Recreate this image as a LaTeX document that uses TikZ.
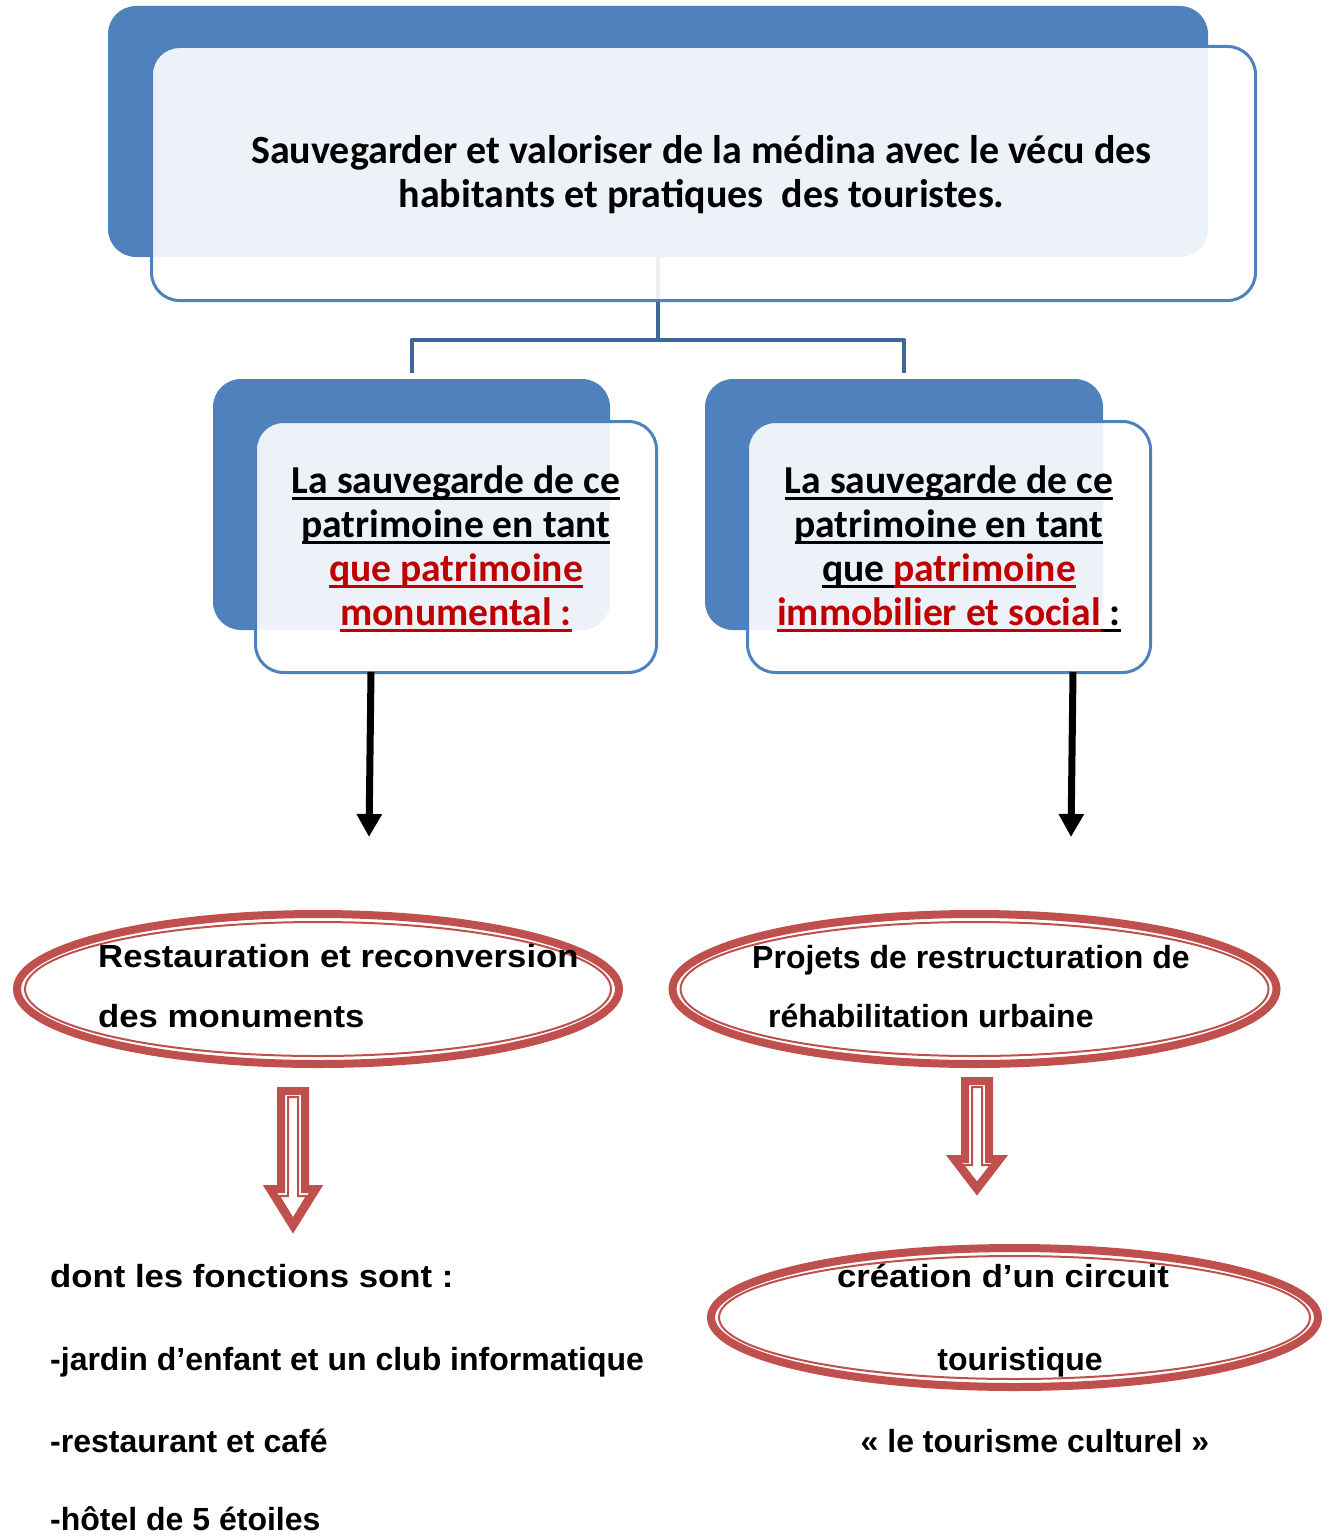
\documentclass[tikz,border=0pt]{standalone}
\usepackage{fontspec}
\setmainfont{Carlito}
\newfontfamily\arialf{Liberation Sans}
\usetikzlibrary{shapes.geometric,arrows.meta}
\definecolor{bback}{HTML}{4F81BD}
\definecolor{bconn}{HTML}{3F6797}
\definecolor{ringred}{HTML}{C0504D}
\definecolor{tred}{HTML}{C00000}
\newcommand{\myul}[1]{\setbox0\hbox{#1}\rlap{\rule[-6pt]{\wd0}{2.8pt}}\box0}
\newcommand{\wider}[1]{\scalebox{1.085}[1]{#1}}
\begin{document}
\begin{tikzpicture}[x=1pt,y=-1pt,
  back/.style={fill=bback, rounded corners=28pt, inner sep=0pt},
  front/.style={draw=bback, line width=3pt, fill=white, fill opacity=0.9, rounded corners=28pt, inner sep=0pt},
  conn/.style={draw=bconn, line width=4pt},
  blk/.style={draw=black, line width=7pt, -{Triangle[width=24pt,length=23pt]}},
  ring/.style={ellipse, draw=ringred, line width=8pt, inner sep=0pt},
  ringin/.style={ellipse, draw=ringred, line width=2pt, inner sep=0pt},
  hol/.style={draw=ringred, line join=miter},
  toptx/.style={align=center, inner sep=0pt, font=\bfseries\fontsize{40}{44}\selectfont},
  bt/.style={align=center, inner sep=0pt, font=\bfseries\fontsize{39.6}{44}\selectfont},
  ab/.style={inner sep=0pt, font=\arialf\bfseries\fontsize{32}{38}\selectfont}]
\useasboundingbox (0,0) rectangle (1333,1536);
% back boxes
\node[back, minimum width=1100pt, minimum height=251pt] (topback) at (658,131.5) {};
\node[back, minimum width=397pt, minimum height=251pt] (mlback) at (411.5,504.5) {};
\node[back, minimum width=398pt, minimum height=251pt] (mrback) at (904,504.5) {};
% connector
\coordinate (split) at (658,340);
\draw[conn] (topback.south) -- (split);
\draw[conn, shorten <=6pt, shorten >=6pt, line join=round] (mlback.north) |- (split) -| (mrback.north);
% front boxes
\node[front, minimum width=1104pt, minimum height=254pt] (top) at (703.5,173.5) {};
\node[front, minimum width=401pt, minimum height=251pt] (ml) at (456,547) {};
\node[front, minimum width=403pt, minimum height=251pt] (mr) at (949,547) {};
% texts in boxes
\node[toptx] (toptext) at (701.5,175) {Sauvegarder et valoriser de la médina avec le vécu des\\habitants et pratiques\ \ des touristes.};
\node[bt] (mltext) at (456,549) {\myul{La sauvegarde de ce}\\\myul{patrimoine en tant}\\{\color{tred}\myul{que patrimoine}}\\{\color{tred}\myul{monumental :}}};
\node[bt] (mrtext) at (949,549) {\myul{La sauvegarde de ce}\\\myul{patrimoine en tant}\\\myul{que\ }{\color{tred}\myul{patrimoine}}\\{\color{tred}\myul{immobilier et social}}\myul{\ :}};
% black arrows
\coordinate (a1) at (369,837);
\coordinate (a2) at (1071,837);
\draw[blk] ([xshift=-85pt,yshift=2pt]ml.south) -- (a1);
\draw[blk] ([xshift=124pt,yshift=2pt]mr.south) -- (a2);
% ellipses
\node[ring, minimum width=602pt, minimum height=150pt] (el1) at (318,989) {};
\node[ringin, minimum width=586pt, minimum height=134pt] (el1i) at (318,989) {};
\node[ring, minimum width=604pt, minimum height=150pt] (el2) at (974.5,989) {};
\node[ringin, minimum width=588pt, minimum height=134pt] (el2i) at (974.5,989) {};
\node[ring, minimum width=607pt, minimum height=139pt] (el3) at (1014.5,1317.5) {};
\node[ringin, minimum width=591pt, minimum height=123pt] (el3i) at (1014.5,1317.5) {};
% hollow arrows
\draw[hol, line width=8pt, fill=white] (281,1091) -- (305,1091) -- (305,1189) -- (316,1189) -- (293,1226) -- (270,1189) -- (281,1189) -- cycle;
\draw[hol, line width=2pt] (288,1097) -- (298,1097) -- (298,1196) -- (307,1196) -- (293,1219) -- (279,1196) -- (288,1196) -- cycle;
\draw[hol, line width=8pt, fill=white] (965,1081) -- (989,1081) -- (989,1159) -- (1000,1159) -- (977,1189) -- (954,1159) -- (965,1159) -- cycle;
\draw[hol, line width=2pt] (972,1087) -- (982,1087) -- (982,1165) -- (991,1165) -- (977,1183) -- (963,1165) -- (972,1165) -- cycle;
% ellipse texts
\node[ab, anchor=base west] (t1a) at (98,967) {\wider{Restauration et reconversion}};
\node[ab, anchor=base west] (t1b) at (98,1027) {\wider{des monuments}};
\node[ab, anchor=base west] (t2a) at (752,968) {Projets de restructuration de};
\node[ab, anchor=base west] (t2b) at (768,1027) {réhabilitation urbaine};
\node[ab, anchor=base] (t3a) at (1003,1287) {\wider{création d’un circuit}};
\node[ab, anchor=base] (t3b) at (1020,1370) {touristique};
\node[ab, anchor=base] (t3c) at (1035,1452) {« le tourisme culturel »};
% left list
\node[ab, anchor=base west] (l1) at (50,1287) {\wider{dont les fonctions sont :}};
\node[ab, anchor=base west] (l2) at (50,1370) {-jardin d’enfant et un club informatique};
\node[ab, anchor=base west] (l3) at (50,1452) {-restaurant et café};
\node[ab, anchor=base west] (l4) at (50,1530) {-hôtel de 5 étoiles};
\end{tikzpicture}
\end{document}
